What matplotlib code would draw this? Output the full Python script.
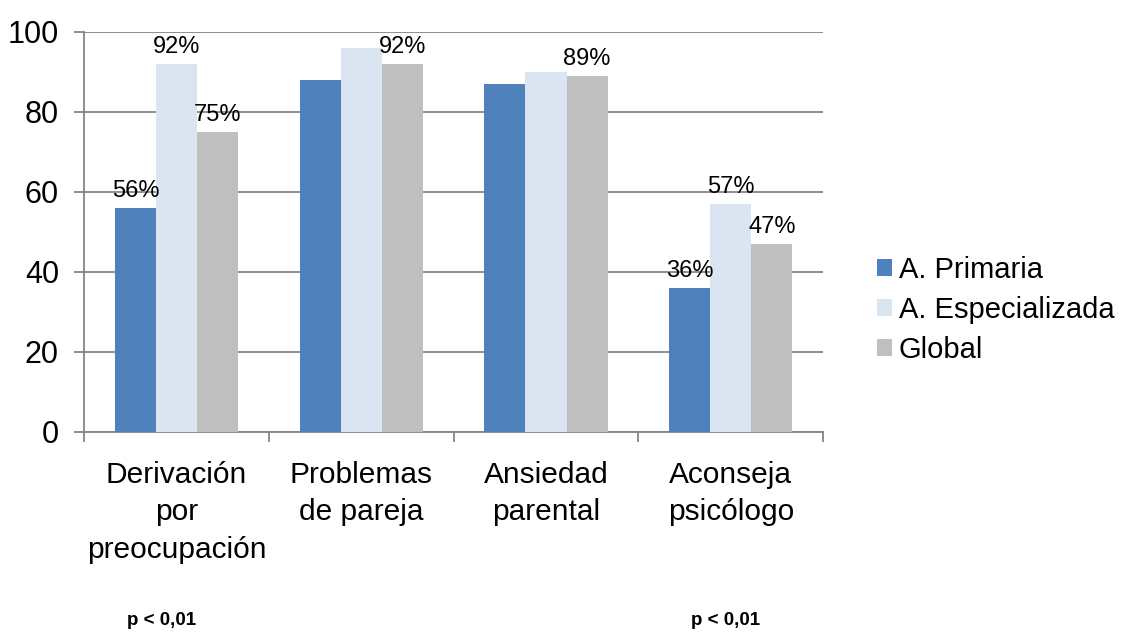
import matplotlib.pyplot as plt
import numpy as np

plt.rcParams['font.family'] = ['Liberation Sans', 'DejaVu Sans']

# categories and series
categories = ['Derivación\npor\npreocupación', 'Problemas\nde pareja',
              'Ansiedad\nparental', 'Aconseja\npsicólogo']
series_names = ['A. Primaria', 'A. Especializada', 'Global']
primaria = [56, 88, 87, 36]
especializada = [92, 96, 90, 57]
global_ = [75, 92, 89, 47]
# which bars get a percent label
show_primaria = [True, False, False, True]
show_especializada = [True, False, False, True]
show_global = [True, True, True, True]
p_values = ['p < 0,01', '', '', 'p < 0,01']

colors = ['#4F81BD', '#DBE5F1', '#BFBFBF']

fig = plt.figure(figsize=(11.26, 6.32), dpi=100)
ax = fig.add_axes([0.0746, 0.3165, 0.6565, 0.6335])

x = np.arange(len(categories))
w = 0.222
all_vals = [primaria, especializada, global_]
all_show = [show_primaria, show_especializada, show_global]

for i, (vals, show) in enumerate(zip(all_vals, all_show)):
    offs = (i - 1) * w
    bars = ax.bar(x + offs, vals, w, color=colors[i], label=series_names[i], zorder=3)
    for b, v, s in zip(bars, vals, show):
        if s:
            ax.annotate('%d%%' % v, (b.get_x() + b.get_width() / 2, v),
                        textcoords='offset points', xytext=(0, 4),
                        ha='center', va='bottom', fontsize=17, zorder=4)

ax.set_xlim(-0.5, len(categories) - 0.5)
ax.set_ylim(0, 100)
ax.set_yticks(range(0, 101, 20))
ax.yaxis.grid(True, color='#868686', linewidth=1.3, zorder=0)
ax.set_axisbelow(True)

for sp in ['top', 'right']:
    ax.spines[sp].set_visible(False)
ax.spines['left'].set_color('#868686')
ax.spines['bottom'].set_color('#868686')
ax.spines['left'].set_linewidth(1.3)
ax.spines['bottom'].set_linewidth(1.3)

# ticks at group boundaries, labels in the middle
ax.set_xticks(np.arange(-0.5, len(categories), 1.0))
ax.set_xticklabels([])
ax.set_xticks(x, minor=True)
ax.set_xticklabels(categories, minor=True, fontsize=21.5, linespacing=1.42)
ax.tick_params(axis='x', which='minor', length=0, pad=21)
ax.tick_params(axis='x', which='major', length=7, color='#868686', width=1.3)
ax.tick_params(axis='y', length=7, color='#868686', width=1.3, labelsize=22, pad=11)

# p-values under the categories
p_shift = [-0.08, 0, 0, -0.03]
for xi, p, s in zip(x, p_values, p_shift):
    if p:
        ax.text(xi + s, -47, p, ha='center', va='center', fontsize=13.5,
                fontweight='bold', clip_on=False)

ax.legend(loc='center left', bbox_to_anchor=(1.057, 0.305), frameon=False,
          fontsize=21, handlelength=0.5, handleheight=0.5, handletextpad=0.25,
          labelspacing=0.42, borderaxespad=0)

fig.savefig('out.png', dpi=100)
